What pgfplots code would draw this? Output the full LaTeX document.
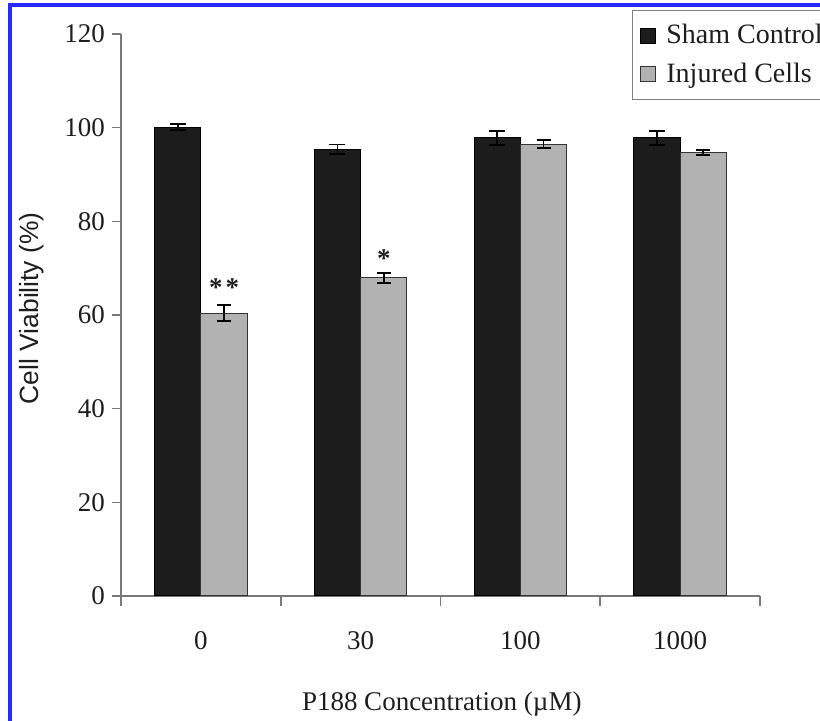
\documentclass[border=0pt]{standalone}
\usepackage{fontspec}
\setmainfont{Liberation Serif}
\newfontfamily\arialfont{Liberation Sans}
\usepackage{pgfplots}
\pgfplotsset{compat=1.18}
\definecolor{frameblue}{RGB}{40,40,255}
\definecolor{shamc}{RGB}{28,28,28}
\definecolor{injc}{RGB}{178,178,178}
\definecolor{axgray}{RGB}{120,120,120}
\definecolor{txt}{RGB}{30,30,30}
\pgfplotsset{sqleg/.style={legend image code/.code={\draw[##1] (0pt,-3.75pt) rectangle (7.5pt,3.75pt);}}}
\begin{document}
\begin{tikzpicture}[x=1pt,y=1pt]
\useasboundingbox (0,0) rectangle (410,360.5);
\clip (0,0) rectangle (410,360.5);
\fill[white] (0,0) rectangle (410,360.5);
\begin{axis}[
  at={(60.5pt,62.5pt)}, anchor=south west,
  scale only axis, width=319.5pt, height=281pt,
  xmin=0.5, xmax=4.5, ymin=0, ymax=120,
  axis lines*=left,
  axis line style={axgray, line width=0.8pt},
  tick align=outside,
  major tick length=4.5pt, minor tick length=5pt,
  every tick/.style={axgray, line width=0.8pt},
  every major x tick/.append style={draw=none},
  xtick={1,2,3,4}, xticklabels={0,30,100,1000},
  minor xtick={0.5,1.5,2.5,3.5,4.5},
  ytick={0,20,40,60,80,100,120},
  /pgf/number format/assume math mode=true,
  ticklabel style={font=\fontsize{13.5}{16}\selectfont, text=txt},
  xticklabel style={yshift=-9.5pt},
  xlabel={P188 Concentration (µM)},
  xlabel style={font=\fontsize{13.5}{16}\selectfont, text=txt, at={(axis description cs:0.502,-0.192)}, anchor=center},
  ylabel={Cell Viability (\%)},
  ylabel style={font=\arialfont\fontsize{13.2}{16}\selectfont, text=txt, at={(axis description cs:-0.140,0.512)}, anchor=center},
  legend style={at={(axis description cs:0.7997,1.0427)}, anchor=north west, draw=gray, fill=white,
     font=\fontsize{14}{16}\selectfont, text=txt, row sep=4pt, inner xsep=4pt, inner ysep=5pt,
     nodes={inner xsep=5pt}},
  legend cell align=left,
  clip=false,
]
\addplot[ybar, bar width=0.29, bar shift=0, fill=shamc, draw=black, line width=0.5pt, sqleg,
  error bars/.cd, y dir=both, y explicit,
  error bar style={black, line width=0.9pt},
  error mark options={rotate=90, black, line width=0.9pt, mark size=4pt}]
coordinates {(0.855,100.1) +- (0,0.6) (1.855,95.4) +- (0,1.0) (2.855,97.8) +- (0,1.5) (3.855,97.8) +- (0,1.5)};
\addlegendentry{Sham Control}
\addplot[ybar, bar width=0.29, bar shift=0, fill=injc, draw=black!80, line width=0.5pt, sqleg,
  error bars/.cd, y dir=both, y explicit,
  error bar style={black, line width=0.9pt},
  error mark options={rotate=90, black, line width=0.9pt, mark size=3.5pt}]
coordinates {(1.145,60.4) +- (0,1.7) (2.145,67.9) +- (0,1.0) (3.145,96.5) +- (0,0.8) (4.145,94.7) +- (0,0.6)};
\addlegendentry{Injured Cells}
\node[font=\bfseries\fontsize{13.5}{16}\selectfont, text=txt, anchor=base] at (axis cs:1.145,64.0) {*\kern1.5pt*};
\node[font=\bfseries\fontsize{13.5}{16}\selectfont, text=txt, anchor=base] at (axis cs:2.145,70.1) {*};
\end{axis}
\draw[frameblue, line width=1.6pt] (5,-20) -- (5,358) -- (430,358);
\end{tikzpicture}
\end{document}
